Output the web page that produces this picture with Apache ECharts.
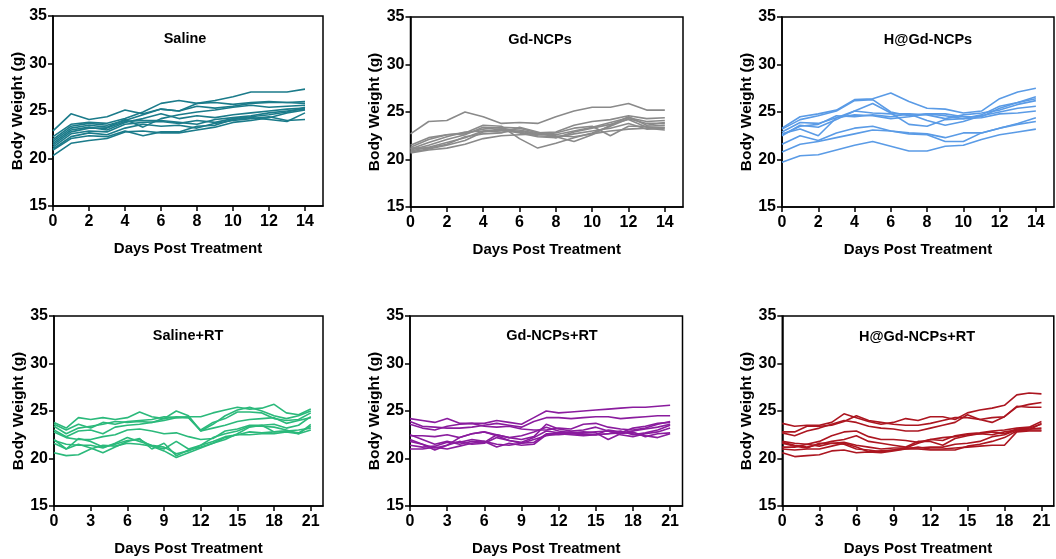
<!DOCTYPE html>
<html><head><meta charset="utf-8">
<script src="https://cdn.jsdelivr.net/npm/echarts@6/dist/echarts.min.js"></script>
<style>html,body{margin:0;padding:0;background:#fff}#c{width:1056px;height:559px}</style>
</head><body><div id="c"></div>
<script>
const daysShort = [0,1,2,3,4,5,6,7,8,9,10,11,12,13,14];
const daysLong = [0,1,2,3,4,5,6,7,8,9,10,11,12,13,14,15,16,17,18,19,20,21];
const ticksShort = [0,2,4,6,8,10,12,14];
const ticksLong = [0,3,6,9,12,15,18,21];
const yTicks = [15,20,25,30,35];
const groupNames = ['Saline','Gd-NCPs','H@Gd-NCPs','Saline+RT','Gd-NCPs+RT','H@Gd-NCPs+RT'];

const saline = [
 [22.9,24.7,24.1,24.4,25.1,24.7,25.2,25.0,25.8,26.1,26.5,27.0,27.0,27.0,27.3],
 [22.3,23.6,23.8,23.7,24.2,24.9,25.8,26.1,25.8,25.9,25.7,25.9,26.0,25.9,26.0],
 [22.0,23.4,23.7,23.5,24.0,24.6,25.2,25.0,25.5,25.3,25.5,25.8,25.9,25.9,25.8],
 [21.8,23.2,23.5,23.3,24.1,23.3,24.2,24.6,24.9,25.1,25.4,25.6,25.4,25.5,25.6],
 [21.6,23.0,23.3,23.0,23.8,24.2,24.7,24.2,24.5,24.3,24.6,24.8,25.0,25.2,25.3],
 [21.4,22.8,23.2,23.2,23.9,24.0,24.0,23.8,23.6,24.1,24.3,24.5,24.8,25.0,25.2],
 [21.2,22.6,22.9,22.8,23.6,23.8,23.9,23.7,24.0,23.8,24.2,24.4,24.6,24.9,25.4],
 [21.0,22.3,22.7,22.5,23.2,23.6,23.4,23.5,23.2,23.7,24.0,24.2,24.4,24.0,24.1],
 [20.9,22.1,22.4,22.3,22.9,22.4,22.8,22.8,23.4,23.5,24.1,24.3,24.1,23.9,24.8],
 [20.3,21.6,21.9,22.1,22.8,22.9,22.7,22.7,23.0,23.3,23.8,24.0,24.3,24.8,25.1]
];
const gdNCPs = [
 [22.7,24.0,24.1,25.0,24.5,23.8,23.9,23.8,24.5,25.1,25.5,25.5,25.9,25.2,25.2],
 [21.5,22.3,22.6,22.8,23.6,23.5,22.2,21.2,21.7,22.3,22.8,23.5,24.3,23.8,23.8],
 [21.3,22.1,22.6,22.7,23.2,23.4,23.3,22.8,22.9,23.6,24.0,24.2,24.6,24.3,24.4],
 [21.1,21.8,22.4,22.9,23.0,23.2,23.1,22.7,22.6,23.0,23.4,23.9,24.4,24.0,24.1],
 [21.0,21.5,22.1,22.6,23.4,23.3,22.9,22.5,22.4,21.9,22.6,23.6,24.5,23.6,23.9],
 [20.9,21.3,21.8,22.3,23.0,22.9,23.0,22.6,22.8,23.3,23.5,22.5,23.5,23.5,23.6],
 [20.8,21.1,21.5,22.0,22.9,23.1,22.8,22.4,22.3,22.9,23.3,23.7,24.2,23.4,23.4],
 [20.7,21.0,21.2,21.6,22.2,22.5,22.6,22.7,22.5,22.4,22.7,23.0,23.2,23.3,23.1],
 [21.2,21.2,21.6,22.4,22.7,22.8,23.4,22.9,22.3,22.7,23.0,23.3,23.8,23.2,23.3]
];
const hgdNCPs = [
 [23.3,24.5,24.8,25.2,26.3,26.4,27.0,26.1,25.4,25.3,24.9,25.1,26.4,27.1,27.5],
 [23.2,24.2,24.6,25.1,26.2,26.3,25.0,24.6,24.8,24.8,24.5,24.5,25.4,26.0,26.4],
 [22.9,23.9,23.8,24.4,25.1,25.9,24.9,23.7,23.5,24.2,24.3,24.7,25.6,26.0,26.6],
 [22.7,23.2,22.5,24.4,24.7,24.6,24.3,24.5,24.8,24.6,24.3,24.4,24.8,24.9,25.1],
 [22.5,23.6,23.4,24.2,25.1,24.9,24.8,24.8,24.1,23.6,24.0,24.6,25.0,25.4,25.6],
 [22.6,23.5,23.7,24.6,24.5,24.7,24.5,24.8,24.7,24.3,24.7,24.9,25.2,25.8,26.2],
 [21.6,22.5,22.0,22.8,23.3,23.5,23.0,22.8,22.7,22.3,22.8,22.8,23.3,23.8,24.4],
 [20.8,21.6,21.9,22.3,22.7,23.1,23.0,22.7,22.6,21.9,21.9,22.8,23.3,23.7,24.0],
 [19.7,20.4,20.5,21.0,21.5,21.9,21.4,20.9,20.9,21.4,21.5,22.1,22.6,22.9,23.2]
];
const salineRT = [
 [23.8,23.2,24.3,24.1,24.3,24.1,24.3,24.9,24.4,24.2,25.0,24.5,22.9,23.6,24.5,25.1,25.4,25.0,24.5,24.2,24.5,25.0],
 [23.6,23.0,23.6,23.2,23.8,23.6,23.9,24.0,24.1,24.4,24.3,24.4,24.4,24.8,25.1,25.4,25.2,25.3,25.7,24.8,24.6,25.2],
 [23.4,22.6,23.2,23.4,23.6,23.9,23.8,23.9,23.8,24.2,24.4,24.3,23.0,23.8,24.2,24.9,24.9,24.8,24.2,24.0,24.1,24.8],
 [23.0,22.3,22.9,23.0,22.6,23.3,23.5,23.6,23.8,24.0,24.3,24.3,22.9,23.2,23.5,23.9,24.1,24.2,24.3,23.7,24.0,24.3],
 [22.8,22.2,22.0,22.0,22.3,22.5,23.0,23.1,22.9,22.6,22.7,22.3,22.0,22.1,22.9,23.1,23.5,23.5,23.6,23.2,23.5,24.4],
 [22.0,21.0,22.1,21.8,21.2,21.5,21.9,22.0,21.3,21.0,21.8,21.0,21.4,22.2,22.6,22.9,23.4,23.4,23.3,23.0,22.6,23.6],
 [21.9,21.5,21.4,21.4,21.1,21.6,22.2,21.8,21.4,21.2,20.5,20.8,21.4,21.8,22.3,22.5,22.8,22.7,22.8,22.9,22.7,23.4],
 [21.6,21.0,21.5,21.1,20.6,21.2,21.8,22.1,21.0,21.6,20.3,20.9,21.2,21.6,22.2,22.5,22.5,22.6,22.6,22.8,22.6,23.0],
 [20.6,20.3,20.4,21.0,21.4,21.3,21.6,21.5,21.3,20.8,20.1,20.6,21.1,21.6,22.0,22.6,23.3,23.5,22.8,22.9,23.0,23.2]
];
const gdNCPsRT = [
 [24.2,24.0,23.8,24.2,23.7,23.7,23.7,24.0,23.8,23.6,24.3,25.0,24.8,24.9,25.0,25.1,25.2,25.3,25.4,25.4,25.5,25.6],
 [23.9,23.4,23.3,23.2,23.2,23.3,23.5,23.7,23.5,23.3,23.9,24.3,24.3,24.2,24.3,24.4,24.4,24.2,24.3,24.4,24.5,24.5],
 [23.6,23.2,23.0,23.4,23.6,23.7,23.4,23.3,23.4,23.1,23.0,23.0,23.2,23.1,23.6,23.7,23.3,23.1,23.0,23.2,23.6,23.9],
 [22.5,22.0,21.5,21.8,21.5,21.8,21.7,22.5,22.2,22.0,22.3,23.6,23.1,22.9,23.0,23.3,22.9,22.7,23.2,23.4,23.7,23.8],
 [22.4,22.4,22.3,22.5,22.2,22.6,22.8,22.5,22.2,22.4,22.8,23.3,22.9,22.7,22.8,22.7,22.0,22.6,22.8,22.3,22.6,22.7],
 [22.0,21.5,21.1,21.4,22.2,22.6,22.8,22.4,21.9,21.7,22.2,22.9,22.7,22.8,22.6,22.5,22.6,22.9,22.5,22.7,23.0,23.5],
 [21.8,21.5,20.9,21.4,21.8,21.5,21.6,22.2,21.9,21.6,21.7,22.6,22.6,22.6,22.5,22.5,23.0,22.8,22.6,22.4,22.2,22.6],
 [21.4,21.2,21.3,21.7,21.7,22.0,21.8,21.2,21.6,21.4,21.5,22.5,22.5,22.6,22.7,22.8,22.9,22.5,22.3,22.6,22.8,23.2],
 [21.0,21.0,21.2,21.0,21.3,21.6,21.8,21.5,21.4,21.6,22.0,22.4,22.6,22.5,22.4,22.5,22.6,22.7,22.9,23.1,23.3,23.6]
];
const hgdNCPsRT = [
 [23.7,23.4,23.5,23.5,23.8,24.7,24.3,23.9,23.6,23.8,24.2,24.0,24.4,24.4,24.1,24.8,25.1,25.3,25.6,26.7,26.9,26.8],
 [22.8,22.8,23.4,23.4,23.5,23.9,24.5,24.0,23.8,23.6,23.5,23.5,23.7,24.0,24.3,24.3,24.1,23.8,24.4,25.4,25.7,25.9],
 [22.7,22.4,22.9,23.2,23.6,24.0,23.8,23.4,23.2,23.1,22.9,22.9,23.2,23.5,23.8,24.6,24.1,24.3,24.4,25.5,25.4,25.4],
 [21.8,21.6,21.5,21.8,22.4,22.8,22.9,22.3,22.0,22.0,21.9,21.7,22.0,21.9,22.4,22.6,22.7,22.9,23.0,23.2,23.3,23.9],
 [21.7,21.4,21.2,21.5,21.8,22.0,22.4,21.8,21.6,21.4,21.2,21.8,21.8,21.4,22.1,22.4,22.6,22.8,22.6,23.1,23.2,23.6],
 [21.6,21.3,21.1,21.6,21.6,21.7,21.4,21.2,21.0,21.1,21.1,21.6,22.0,22.2,22.3,22.5,22.6,22.5,22.8,23.0,23.1,23.2],
 [21.2,21.2,21.5,21.3,21.6,21.5,21.0,20.9,20.7,20.9,21.1,21.1,21.2,21.2,21.5,21.6,21.8,22.3,22.5,23.0,23.0,23.0],
 [21.0,20.9,21.0,21.0,21.3,21.6,21.2,20.7,20.8,20.9,21.0,21.2,21.0,21.0,21.1,21.2,21.3,21.4,21.4,22.8,22.9,22.9],
 [20.6,20.2,20.3,20.4,20.8,20.9,20.6,20.7,20.6,20.8,21.0,21.0,20.9,20.9,20.9,21.3,21.5,21.8,22.2,22.9,23.0,23.7]
];

const groups = [saline, gdNCPs, hgdNCPs, salineRT, gdNCPsRT, hgdNCPsRT];
const colors = ['#1b7b8a','#8a8a8a','#5a9be6','#2bb97b','#8a1c9e','#ac1620'];
const layout = [
 {left:53, top:16, width:270, height:190, titleX:180, titleY:26},
 {left:410.5, top:17, width:272.5, height:190, titleX:535, titleY:27},
 {left:782, top:17, width:272, height:190, titleX:923, titleY:27},
 {left:54, top:316, width:269, height:190, titleX:183, titleY:323},
 {left:410, top:316, width:272.5, height:190, titleX:547, titleY:323},
 {left:782.3, top:316, width:271.5, height:190, titleX:912, titleY:324}
];
const FONT = '"Liberation Sans", Arial, sans-serif';
const grids=[], xAxes=[], yAxes=[], series=[], titles=[];
layout.forEach((L,i)=>{
  const shortPanel = i < 3;
  grids.push({left:L.left, top:L.top, width:L.width, height:L.height, show:true, borderColor:'#000', borderWidth:1.5, backgroundColor:'transparent'});
  xAxes.push({type:'value', gridIndex:i, min:0, max: shortPanel?15:22,
    name:'Days Post Treatment', nameLocation:'middle', nameGap:35,
    nameTextStyle:{fontFamily:FONT, fontWeight:'bold', fontSize:15, color:'#000'},
    axisLine:{show:true, lineStyle:{color:'#000', width:1.5}},
    axisTick:{show:true, length:5, lineStyle:{color:'#000', width:1.5}, customValues: shortPanel?ticksShort:ticksLong},
    axisLabel:{fontFamily:FONT, fontWeight:'bold', fontSize:16, color:'#000', margin:8, customValues: shortPanel?ticksShort:ticksLong},
    splitLine:{show:false}});
  yAxes.push({type:'value', gridIndex:i, min:15, max:35, interval:5,
    name:'Body Weight (g)', nameLocation:'middle', nameGap:26,
    nameTextStyle:{fontFamily:FONT, fontWeight:'bold', fontSize:15.5, color:'#000'},
    axisLine:{show:true, lineStyle:{color:'#000', width:1.5}},
    axisTick:{show:true, length:5, lineStyle:{color:'#000', width:1.5}},
    axisLabel:{fontFamily:FONT, fontWeight:'bold', fontSize:16, color:'#000', margin:6, customValues:yTicks},
    splitLine:{show:false}});
  titles.push({text:groupNames[i], left:L.titleX, top:L.titleY, textAlign:'center',
    textStyle:{fontFamily:FONT, fontWeight:'bold', fontSize:14.5, color:'#000'}});
  const days = shortPanel?daysShort:daysLong;
  groups[i].forEach((vals,k)=>{
    series.push({type:'line', name:groupNames[i]+' '+(k+1), xAxisIndex:i, yAxisIndex:i,
      data: vals.map((v,j)=>[days[j], v]), showSymbol:false, symbol:'none', silent:true,
      lineStyle:{color:colors[i], width:1.6}, itemStyle:{color:colors[i]}});
  });
});
const chart = echarts.init(document.getElementById('c'), null, {renderer:'canvas'});
chart.setOption({animation:false, backgroundColor:'#fff', title:titles, grid:grids, xAxis:xAxes, yAxis:yAxes, series:series});
</script></body></html>
